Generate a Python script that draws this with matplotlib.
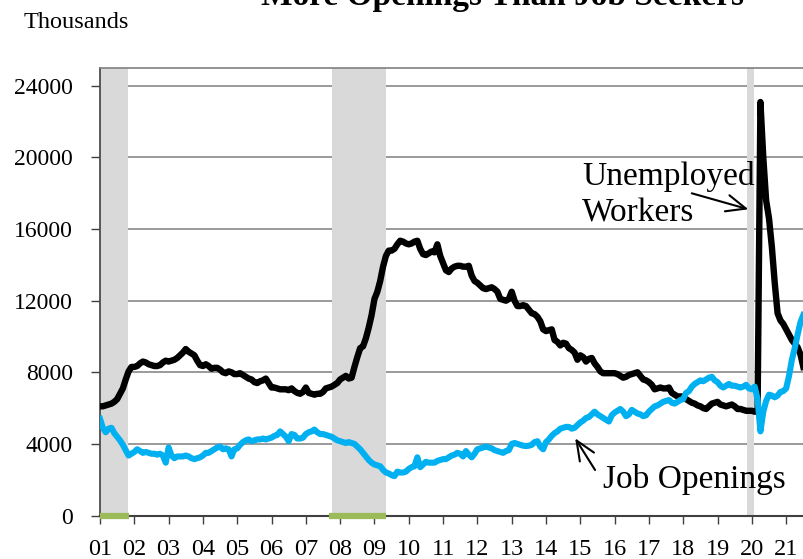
import matplotlib.pyplot as plt
import numpy as np

plt.rcParams['font.family'] = ['Liberation Serif', 'DejaVu Serif']

year_labels = ['01', '02', '03', '04', '05', '06', '07', '08', '09', '10', '11',
               '12', '13', '14', '15', '16', '17', '18', '19', '20', '21']

# unemployed workers, thousands, monthly Jan 2001 - Jul 2021
unemployed = [
    6100, 6100, 6150, 6200, 6250, 6350, 6500, 6800, 7100, 7600, 8050, 8300,        # 2001
    8300, 8350, 8500, 8600, 8550, 8450, 8400, 8350, 8350, 8400, 8550, 8650,        # 2002
    8600, 8650, 8700, 8800, 8950, 9100, 9300, 9150, 9050, 8950, 8650, 8400,        # 2003
    8350, 8450, 8350, 8200, 8250, 8250, 8150, 8000, 7950, 8050, 8000, 7900,        # 2004
    7900, 7950, 7850, 7750, 7650, 7600, 7450, 7400, 7500, 7550, 7650, 7400,        # 2005
    7150, 7150, 7100, 7050, 7050, 7050, 7000, 7100, 6950, 6850, 6800, 6900,        # 2006
    7150, 6850, 6800, 6750, 6800, 6800, 6900, 7100, 7150, 7200, 7300, 7400,        # 2007
    7600, 7700, 7800, 7650, 7700, 8300, 8850, 9350, 9450, 9900, 10500, 11200,      # 2008
    12100, 12500, 13100, 13900, 14500, 14800, 14800, 14900, 15150, 15350, 15300, 15200,  # 2009
    15150, 15200, 15300, 15350, 14900, 14600, 14550, 14650, 14750, 14700, 15150, 14500,  # 2010
    14100, 13700, 13600, 13800, 13900, 13950, 13950, 13900, 13900, 13950, 13400, 13100,  # 2011
    13000, 12850, 12700, 12650, 12700, 12750, 12650, 12500, 12100, 12050, 12000, 12100,  # 2012
    12500, 12000, 11700, 11700, 11750, 11700, 11500, 11300, 11250, 11100, 10850, 10400,  # 2013
    10300, 10350, 10400, 9800, 9700, 9500, 9650, 9600, 9350, 9250, 9100, 8700,    # 2014
    8950, 8850, 8600, 8750, 8800, 8500, 8300, 8050, 7950, 7950, 7950, 7950,        # 2015
    7950, 7900, 7800, 7700, 7750, 7850, 7900, 7950, 8000, 7800, 7600, 7550,        # 2016
    7450, 7300, 7050, 7100, 7150, 7100, 7100, 7150, 6850, 6750, 6650, 6650,        # 2017
    6650, 6500, 6400, 6300, 6250, 6150, 6100, 6000, 5950, 6100, 6250, 6300,        # 2018
    6350, 6200, 6150, 6100, 6150, 6200, 6100, 5950, 5950, 5900, 5850, 5850,        # 2019
    5850, 5800, 5800, 23100, 20000, 17600, 16600, 15000, 13000, 11300, 10900, 10700,  # 2020
    10400, 10100, 9800, 9600, 9400, 9000, 8300,                                    # 2021
]

# job openings, thousands, monthly Jan 2001 - Jul 2021
openings = [
    5400, 4900, 4650, 4850, 4900, 4600, 4400, 4200, 3950, 3650, 3350, 3450,        # 2001
    3550, 3700, 3600, 3500, 3550, 3500, 3450, 3450, 3400, 3450, 3350, 2950,        # 2002
    3800, 3350, 3200, 3300, 3300, 3300, 3350, 3300, 3200, 3150, 3200, 3250,        # 2003
    3350, 3500, 3500, 3600, 3700, 3800, 3850, 3700, 3750, 3700, 3300, 3700,        # 2004
    3750, 3950, 4100, 4200, 4250, 4150, 4200, 4250, 4250, 4300, 4250, 4300,        # 2005
    4350, 4450, 4500, 4700, 4550, 4400, 4150, 4550, 4500, 4300, 4300, 4350,        # 2006
    4550, 4650, 4700, 4800, 4650, 4550, 4550, 4500, 4450, 4400, 4300, 4200,        # 2007
    4150, 4100, 4050, 4100, 4050, 4000, 3850, 3700, 3500, 3300, 3100, 2950,        # 2008
    2850, 2800, 2750, 2550, 2400, 2350, 2250, 2200, 2450, 2400, 2400, 2450,        # 2009
    2600, 2700, 2750, 3250, 2700, 2850, 3000, 2950, 2950, 2950, 3050, 3100,        # 2010
    3150, 3150, 3250, 3350, 3400, 3500, 3450, 3300, 3600, 3400, 3250, 3450,        # 2011
    3700, 3750, 3800, 3850, 3800, 3750, 3650, 3600, 3550, 3500, 3600, 3650,        # 2012
    4000, 4050, 4000, 3950, 3900, 3880, 3900, 3950, 4100, 4150, 3850, 3700,        # 2013
    4100, 4250, 4450, 4600, 4700, 4850, 4900, 4950, 4950, 4850, 4900, 5050,        # 2014
    5200, 5300, 5450, 5500, 5650, 5800, 5650, 5550, 5450, 5350, 5250, 5600,        # 2015
    5750, 5850, 5950, 5800, 5550, 5650, 5900, 5800, 5700, 5650, 5550, 5600,        # 2016
    5800, 5950, 6100, 6150, 6250, 6350, 6400, 6450, 6300, 6250, 6350, 6450,        # 2017
    6500, 6850, 6950, 7200, 7350, 7450, 7550, 7500, 7600, 7700, 7750, 7550,        # 2018
    7450, 7250, 7150, 7250, 7350, 7250, 7250, 7200, 7150, 7200, 7300, 7100,        # 2019
    7050, 7200, 6500, 4700, 5800, 6400, 6750, 6700, 6600, 6700, 6900, 6950,        # 2020
    7100, 7800, 8700, 9350, 10100, 10800, 11200,                                   # 2021
]

recessions = [(2001.0, 2001.82), (2007.76, 2009.34), (2019.86, 2020.05)]
recession_bars = [(2001.0, 2001.85), (2007.68, 2009.34)]

x = 2001 + np.arange(len(unemployed)) / 12

fig = plt.figure(figsize=(8.04, 5.59), dpi=100)
ax = fig.add_axes([100 / 804, 43.5 / 559, 704 / 804, 447.5 / 559])

ax.set_axisbelow(True)
ax.grid(axis='y', color='#7f7f7f', lw=1.1)
for a, b in recessions:
    ax.axvspan(a, b, color='#d9d9d9', lw=0, zorder=1)

ax.plot(x, unemployed, color='black', lw=4.6, zorder=3, solid_joinstyle='round')
ax.plot(x, openings, color='#00b0f0', lw=4.4, zorder=4, solid_joinstyle='round')

for a, b in recession_bars:
    ax.plot([a, b], [0, 0], color='#9bbb59', lw=4.5, solid_capstyle='butt',
            clip_on=False, zorder=5)

ax.set_xlim(2001, 2021.52)
ax.set_ylim(0, 25000)
ax.set_xticks(range(2001, 2022))
ax.set_xticklabels(year_labels)
ax.set_yticks(range(0, 24001, 4000))

ax.tick_params(axis='x', direction='out', length=6, width=1, color='#404040',
               pad=11, labelsize=17.5)
ax.tick_params(axis='y', direction='out', length=6.5, width=1, color='#404040',
               pad=13, labelsize=17)

ax.spines['right'].set_visible(False)
ax.spines['top'].set_color('#808080')
ax.spines['top'].set_linewidth(1.2)
ax.spines['left'].set_color('#404040')
ax.spines['left'].set_linewidth(1.2)
ax.spines['bottom'].set_color('#404040')
ax.spines['bottom'].set_linewidth(1.5)

fig.text(24 / 804, 1 - 28 / 559, 'Thousands', fontsize=17.5, va='baseline', ha='left')
# title is cut off by the top edge, as in the source image
fig.text(503 / 804, 1 - 5.5 / 559, 'More Openings Than Job Seekers', fontsize=24,
         fontweight='bold', ha='center', va='baseline')

ax.text(2015.05, 18464, 'Unemployed', fontsize=24, va='baseline', ha='left')
ax.text(2015.05, 16413, 'Workers', fontsize=24, va='baseline', ha='left')
ax.annotate('', xy=(2019.90, 17106), xytext=(2018.25, 18000),
            arrowprops=dict(arrowstyle='->,head_length=0.7,head_width=0.3',
                            lw=1.5, color='black', mutation_scale=20,
                            shrinkA=0, shrinkB=0))

ax.text(2015.67, 1553, 'Job Openings', fontsize=24, va='baseline', ha='left')
ax.annotate('', xy=(2014.85, 4313), xytext=(2015.43, 2542),
            arrowprops=dict(arrowstyle='->,head_length=0.7,head_width=0.3',
                            lw=1.5, color='black', mutation_scale=20,
                            shrinkA=0, shrinkB=0))

fig.savefig('out.png', dpi=100)
